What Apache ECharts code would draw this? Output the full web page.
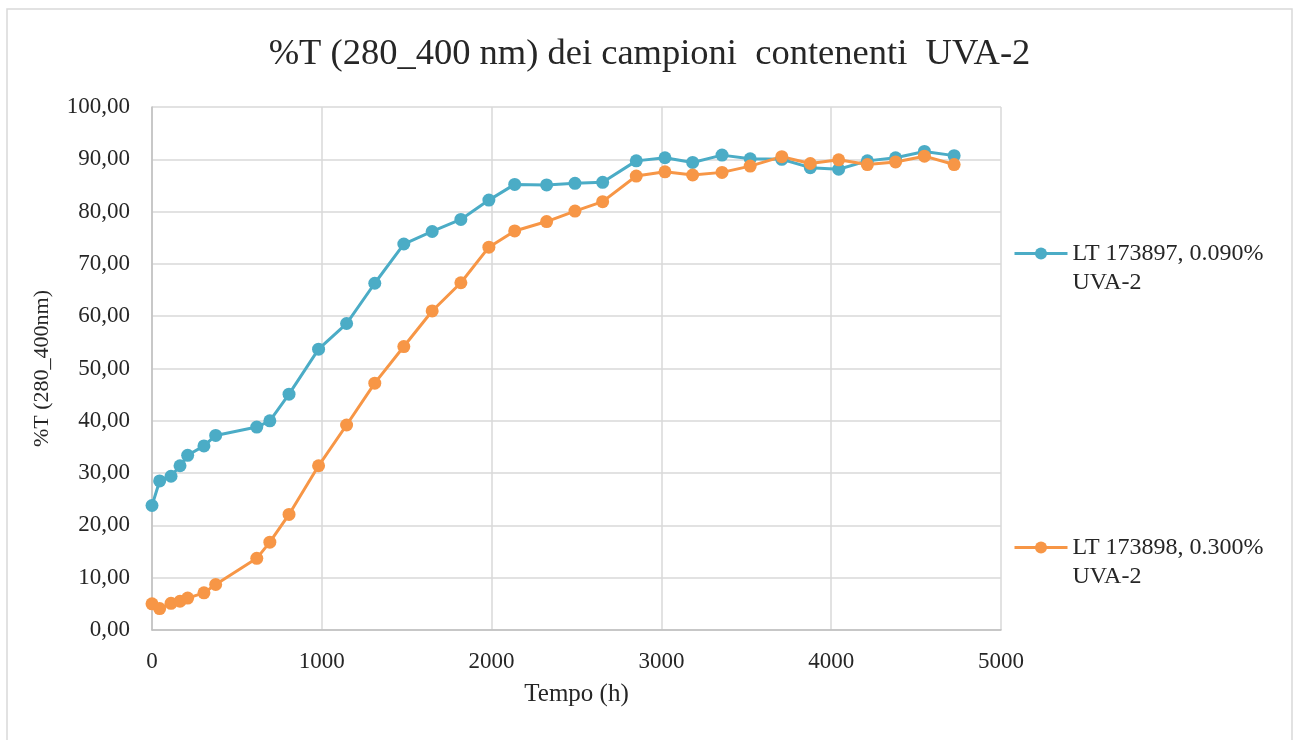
<!DOCTYPE html>
<html>
<head>
<meta charset="utf-8">
<script src="https://cdn.jsdelivr.net/npm/echarts@6/dist/echarts.min.js"></script>
<style>
html,body{margin:0;padding:0;background:#fff;}
#chart{width:1299px;height:740px;}
</style>
</head>
<body>
<div id="chart"></div>
<script>
// Time (h)
const hours = [0, 45, 112, 165, 210, 306, 375, 617, 694, 807, 981, 1146, 1312, 1483, 1650, 1819, 1984, 2136, 2324, 2491, 2654, 2852, 3021, 3184, 3357, 3523, 3709, 3877, 4044, 4213, 4379, 4549, 4724];
// LT 173897, 0.090% UVA-2
const seriesA = [23.8, 28.5, 29.4, 31.4, 33.4, 35.2, 37.2, 38.8, 40.0, 45.1, 53.7, 58.6, 66.3, 73.8, 76.2, 78.5, 82.2, 85.2, 85.1, 85.4, 85.6, 89.7, 90.3, 89.4, 90.8, 90.1, 90.0, 88.4, 88.1, 89.7, 90.3, 91.5, 90.7];
// LT 173898, 0.300% UVA-2
const seriesB = [5.0, 4.1, 5.1, 5.5, 6.1, 7.1, 8.7, 13.7, 16.8, 22.1, 31.4, 39.2, 47.2, 54.2, 61.0, 66.4, 73.2, 76.3, 78.1, 80.1, 81.9, 86.8, 87.6, 87.0, 87.5, 88.7, 90.5, 89.2, 89.9, 89.0, 89.5, 90.6, 89.0];
const nameA = 'LT 173897, 0.090%\nUVA-2';
const nameB = 'LT 173898, 0.300%\nUVA-2';
const yTickLabels = ['0,00', '10,00', '20,00', '30,00', '40,00', '50,00', '60,00', '70,00', '80,00', '90,00', '100,00'];
const xTickLabels = ['0', '1000', '2000', '3000', '4000', '5000'];

const FONT = 'Liberation Serif';
const TXT = '#262626';

const legendCommon = {
  orient: 'vertical',
  left: 1013,
  padding: 0,
  itemWidth: 53,
  itemHeight: 15,
  itemGap: 0,
  lineStyle: {width: 3},
  // blank first line so the marker sits level with the first text line
  formatter: n => ' \n' + n,
  textStyle: {fontFamily: FONT, fontSize: 24, color: TXT, lineHeight: 29}
};

const chart = echarts.init(document.getElementById('chart'), null, {renderer: 'canvas'});
chart.setOption({
  backgroundColor: '#fff',
  animation: false,
  graphic: [{
    type: 'rect',
    shape: {x: 7, y: 9, width: 1285, height: 740},
    style: {fill: 'none', stroke: '#d9d9d9', lineWidth: 1.5},
    silent: true
  }],
  title: {
    text: '%T (280_400 nm) dei campioni  contenenti  UVA-2',
    left: 'center',
    top: 31,
    textStyle: {fontFamily: FONT, fontSize: 36.5, fontWeight: 'normal', color: TXT}
  },
  legend: [
    Object.assign({data: [nameA], top: 210}, legendCommon),
    Object.assign({data: [nameB], top: 504}, legendCommon)
  ],
  grid: {left: 152, top: 107, width: 849, height: 523, containLabel: false},
  xAxis: {
    type: 'value',
    min: 0, max: 5000, interval: 1000,
    name: 'Tempo (h)',
    nameLocation: 'middle',
    nameGap: 52,
    nameTextStyle: {fontFamily: FONT, fontSize: 25, color: TXT},
    axisLine: {show: true, lineStyle: {color: '#bfbfbf', width: 1.5}},
    axisTick: {show: false},
    splitLine: {show: true, lineStyle: {color: '#d9d9d9', width: 1.5}},
    axisLabel: {
      fontFamily: FONT, fontSize: 23, color: TXT, margin: 20,
      formatter: v => xTickLabels[Math.round(v / 1000)]
    }
  },
  yAxis: {
    type: 'value',
    min: 0, max: 100, interval: 10,
    name: '%T (280_400nm)',
    nameLocation: 'middle',
    nameGap: 99,
    nameTextStyle: {fontFamily: FONT, fontSize: 22, color: TXT},
    axisLine: {show: true, lineStyle: {color: '#bfbfbf', width: 1.5}},
    axisTick: {show: false},
    splitLine: {show: true, lineStyle: {color: '#d9d9d9', width: 1.5}},
    axisLabel: {
      fontFamily: FONT, fontSize: 23, color: TXT, margin: 22,
      formatter: v => yTickLabels[Math.round(v / 10)]
    }
  },
  series: [{
    name: nameA,
    type: 'line',
    data: hours.map((h, i) => [h, seriesA[i]]),
    symbol: 'circle',
    symbolSize: 13,
    showAllSymbol: true,
    color: '#4bacc6',
    lineStyle: {width: 3, color: '#4bacc6'},
    itemStyle: {color: '#4bacc6'}
  }, {
    name: nameB,
    type: 'line',
    data: hours.map((h, i) => [h, seriesB[i]]),
    symbol: 'circle',
    symbolSize: 13,
    showAllSymbol: true,
    color: '#f79646',
    lineStyle: {width: 3, color: '#f79646'},
    itemStyle: {color: '#f79646'}
  }]
});
</script>
</body>
</html>
